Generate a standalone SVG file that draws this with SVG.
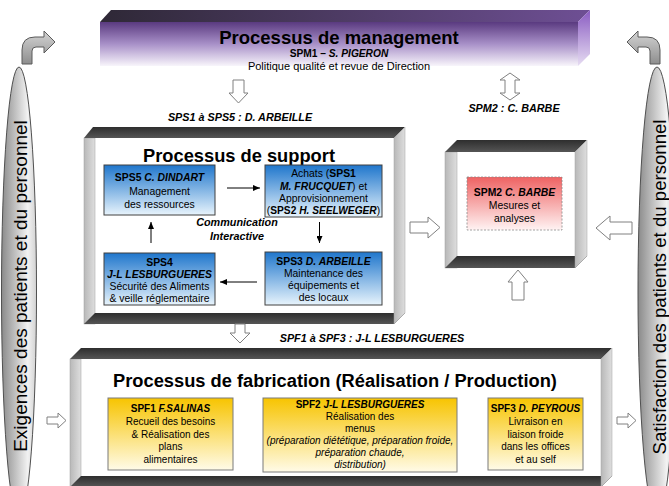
<svg xmlns="http://www.w3.org/2000/svg" width="669" height="486" viewBox="0 0 669 486">
<defs>
<linearGradient id="gMgmtFront" x1="0" y1="0" x2="0" y2="1"><stop offset="0" stop-color="#5a3a80"/><stop offset="0.5" stop-color="#a890c8"/><stop offset="1" stop-color="#f8f5fb"/></linearGradient>
<linearGradient id="gMgmtTop" x1="0" y1="0" x2="1" y2="0"><stop offset="0" stop-color="#2e2836"/><stop offset="1" stop-color="#6e4f94"/></linearGradient>
<linearGradient id="gMgmtSide" x1="0" y1="0" x2="0" y2="1"><stop offset="0" stop-color="#8a5cc2"/><stop offset="1" stop-color="#e6dcf2"/></linearGradient>
<linearGradient id="gDark" x1="0" y1="0" x2="0" y2="1"><stop offset="0" stop-color="#2e2e2e"/><stop offset="1" stop-color="#555"/></linearGradient>
<linearGradient id="gSide" x1="0" y1="0" x2="1" y2="0"><stop offset="0" stop-color="#b8b8b8"/><stop offset="1" stop-color="#dedede"/></linearGradient>
<linearGradient id="gBlue" x1="0" y1="0" x2="0" y2="1"><stop offset="0" stop-color="#1f76cc"/><stop offset="1" stop-color="#e8f4fc"/></linearGradient>
<linearGradient id="gYellow" x1="0" y1="0" x2="0" y2="1"><stop offset="0" stop-color="#f7c400"/><stop offset="1" stop-color="#fffbe8"/></linearGradient>
<linearGradient id="gPink" x1="0" y1="0" x2="0" y2="1"><stop offset="0" stop-color="#ee6262"/><stop offset="1" stop-color="#fff3f3"/></linearGradient>
<linearGradient id="gPillar" x1="0" y1="0" x2="1" y2="0"><stop offset="0" stop-color="#8a8a8a"/><stop offset="0.75" stop-color="#f2f2f2"/><stop offset="1" stop-color="#d2d2d2"/></linearGradient>
<linearGradient id="gCurve" x1="0" y1="0" x2="0" y2="1"><stop offset="0" stop-color="#d4d4d4"/><stop offset="1" stop-color="#8e8e8e"/></linearGradient>
<marker id="ah" markerWidth="7" markerHeight="6" refX="7" refY="3" orient="auto" markerUnits="userSpaceOnUse"><path d="M0,0 L7,3 L0,6 Z" fill="#000"/></marker>
<style>
text{font-family:"Liberation Sans",Arial,Helvetica,sans-serif;fill:#000}
.s{font-size:10.4px;text-anchor:middle}
.f{font-size:10px;text-anchor:middle}
.h{font-size:18.3px;font-weight:bold;text-anchor:middle}
.lab{font-size:10.8px;font-weight:bold;font-style:italic;text-anchor:middle}
.b{font-weight:bold}
.i{font-style:italic}
.bi{font-weight:bold;font-style:italic}
.dark{fill:url(#gDark)}
.side{fill:url(#gSide);stroke:#a0a0a0;stroke-width:0.5}
.face{fill:#fff}
.blk{fill:#fff;stroke:#808080;stroke-width:1}
.conn{stroke:#000;stroke-width:1;fill:none;marker-end:url(#ah)}
.blue{fill:url(#gBlue);stroke:#404040;stroke-width:1}
.yel{fill:url(#gYellow);stroke:#7a7a7a;stroke-width:1}
.pillar{fill:url(#gPillar);stroke:#505050;stroke-width:1}
.curve{fill:url(#gCurve);stroke:#5a5a5a;stroke-width:1}
</style>
</defs>

<g id="pillar-left">
<ellipse class="pillar" cx="19" cy="292" rx="17.5" ry="225"/>
<text transform="translate(26.5,286) rotate(-90)" style="font-size:19px;text-anchor:middle">Exigences des patients et du personnel</text>
</g>
<g id="pillar-right">
<ellipse class="pillar" cx="657" cy="292" rx="19" ry="225"/>
<text transform="translate(666,287) rotate(-90)" style="font-size:18.6px;text-anchor:middle">Satisfaction des patients et du personnel</text>
</g>

<g id="management">
<rect x="100" y="22" width="478" height="44" fill="url(#gMgmtFront)"/>
<polygon points="111,10 590,10 578,22 100,22" fill="url(#gMgmtTop)"/>
<polygon points="578,22 590,10 590,54 578,66" fill="url(#gMgmtSide)"/>
<text class="h" x="339" y="44" style="font-size:18.5px">Processus de management</text>
<text class="s" x="339" y="56.5" style="font-size:10.2px"><tspan class="b">SPM1 – </tspan><tspan class="bi">S. PIGERON</tspan></text>
<text class="s" x="339" y="70" style="font-size:11px">Politique qualité et revue de Direction</text>
</g>

<g id="support">
<rect class="face" x="95" y="138" width="299" height="175"/>
<rect class="side" x="84" y="138" width="11" height="186"/>
<polygon class="dark" points="93,127 405,127 394,138 84,138"/>
<polygon class="dark" points="95,313 405,313 394,324 84,324"/>
<polygon class="side" points="394,138 405,127 405,313 394,324"/>
<text class="h" x="239" y="162">Processus de support</text>
</g>

<g id="sps5">
<rect class="blue" x="104" y="165" width="111" height="50"/>
<text class="s" x="159.5" y="181"><tspan class="b">SPS5 </tspan><tspan class="bi">C. DINDART</tspan></text>
<text class="s" x="159.5" y="194.5">Management</text>
<text class="s" x="159.5" y="207.5">des ressources</text>
</g>
<g id="sps1">
<rect class="blue" x="265" y="165" width="117" height="52"/>
<text class="s" x="323.5" y="176.5">Achats (<tspan class="b">SPS1</tspan></text>
<text class="s" x="323.5" y="189.5"><tspan class="bi">M. FRUCQUET</tspan>) et</text>
<text class="s" x="323.5" y="202">Approvisionnement</text>
<text class="s" x="323.5" y="214" style="font-size:10.2px">(<tspan class="b">SPS2 </tspan><tspan class="bi">H. SEELWEGER</tspan>)</text>
</g>
<g id="sps4">
<rect class="blue" x="104" y="253" width="111" height="52"/>
<text class="s" x="159.5" y="265.5" style="font-weight:bold">SPS4</text>
<text class="s" x="159.5" y="278"><tspan class="bi">J-L LESBURGUERES</tspan></text>
<text class="s" x="159.5" y="290">Sécurité des Aliments</text>
<text class="s" x="159.5" y="302">&amp; veille réglementaire</text>
</g>
<g id="sps3">
<rect class="blue" x="265" y="252" width="117" height="53"/>
<text class="s" x="323.5" y="265"><tspan class="b">SPS3 </tspan><tspan class="bi">D. ARBEILLE</tspan></text>
<text class="s" x="323.5" y="277">Maintenance des</text>
<text class="s" x="323.5" y="289">équipements et</text>
<text class="s" x="323.5" y="301">des locaux</text>
</g>
<g id="communication">
<text class="lab" x="237" y="226">Communication</text>
<text class="lab" x="237" y="240">Interactive</text>
</g>

<g id="spm2">
<rect class="face" x="457" y="152" width="118" height="104"/>
<rect class="side" x="445" y="152" width="12" height="116"/>
<polygon class="dark" points="457,140 587,140 575,152 445,152"/>
<polygon class="dark" points="457,256 587,256 575,268 445,268"/>
<polygon class="side" points="575,152 587,140 587,256 575,268"/>
<rect x="467" y="177" width="95" height="53" fill="url(#gPink)" stroke="#8a8a8a" stroke-width="0.8" stroke-dasharray="2,1.5"/>
<text class="s" x="514.5" y="196"><tspan class="b">SPM2 </tspan><tspan class="bi">C. BARBE</tspan></text>
<text class="s" x="514.5" y="209">Mesures et</text>
<text class="s" x="514.5" y="222">analyses</text>
</g>

<g id="fabrication">
<rect class="face" x="81" y="359" width="520" height="117"/>
<rect class="side" x="70" y="359" width="11" height="128"/>
<polygon class="dark" points="81,348 612,348 601,359 70,359"/>
<polygon class="dark" points="81,476 612,476 601,487 70,487"/>
<polygon class="side" points="601,359 612,348 612,476 601,487"/>
<text class="h" x="335" y="387">Processus de fabrication (Réalisation / Production)</text>
</g>
<g id="spf1">
<rect class="yel" x="108" y="398" width="125" height="72"/>
<text class="f" x="170.5" y="411.5"><tspan class="b">SPF1 </tspan><tspan class="bi">F.SALINAS</tspan></text>
<text class="f" x="170.5" y="424.5">Recueil des besoins</text>
<text class="f" x="170.5" y="437.5">&amp; Réalisation des</text>
<text class="f" x="170.5" y="450">plans</text>
<text class="f" x="170.5" y="462.5">alimentaires</text>
</g>
<g id="spf2">
<rect class="yel" x="263" y="398" width="194" height="74"/>
<text class="f" x="360" y="408"><tspan class="b">SPF2 </tspan><tspan class="bi">J-L LESBURGUERES</tspan></text>
<text class="f" x="360" y="420">Réalisation des</text>
<text class="f" x="360" y="432">menus</text>
<text class="f i" x="360" y="444">(préparation diététique, préparation froide,</text>
<text class="f i" x="360" y="456">préparation chaude,</text>
<text class="f i" x="360" y="468">distribution)</text>
</g>
<g id="spf3">
<rect class="yel" x="488" y="398" width="95" height="72"/>
<text class="f" x="535.5" y="411.5"><tspan class="b">SPF3 </tspan><tspan class="bi">D. PEYROUS</tspan></text>
<text class="f" x="535.5" y="424.5">Livraison en</text>
<text class="f" x="535.5" y="437.5">liaison froide</text>
<text class="f" x="535.5" y="450">dans les offices</text>
<text class="f" x="535.5" y="462.5">et au self</text>
</g>

<g id="labels">
<text class="lab" x="240" y="121">SPS1 à SPS5 : D. ARBEILLE</text>
<text class="lab" x="514" y="112">SPM2  : C. BARBE</text>
<text class="lab" x="372" y="342">SPF1 à SPF3 : J-L LESBURGUERES</text>
</g>

<g id="connectors">
<line class="conn" x1="227" y1="188" x2="260" y2="188"/>
<line class="conn" x1="319.5" y1="222" x2="319.5" y2="243"/>
<line class="conn" x1="257" y1="282" x2="220" y2="282"/>
<line class="conn" x1="151" y1="243" x2="151" y2="222"/>
<path class="blk" d="M233,80 H244 V93 H248 L238.5,103 L229,93 H233 Z"/>
<path class="blk" d="M510,73 L520,80 H515 V93 H520 L510,100 L500,93 H505 V80 H500 Z"/>
<path class="blk" d="M410,222 H428 V217 L440,227.5 L428,238 V233 H410 Z"/>
<path class="blk" d="M632,222 H610 V216 L596,228 L610,240 V234 H632 Z"/>
<path class="blk" d="M518,270 L528,282 H524 V300 H512 V282 H508 Z"/>
<path class="blk" d="M235,324 H245 V333 H250 L240,343 L230,333 H235 Z"/>
<path class="blk" d="M47,417 H58 V413 L66,420.5 L58,428 V424 H47 Z"/>
<path class="blk" d="M617,417 H628 V413 L636,420.5 L628,428 V424 H617 Z"/>
<path class="curve" d="M22,64 V50 Q22,37 35,37 H44 V31 L55,42 L44,53 V47 H36 Q32,47 32,51 V64 Z"/>
<path class="curve" transform="translate(682,0) scale(-1,1)" d="M22,64 V50 Q22,37 35,37 H44 V31 L55,42 L44,53 V47 H36 Q32,47 32,51 V64 Z"/>
</g>
</svg>
